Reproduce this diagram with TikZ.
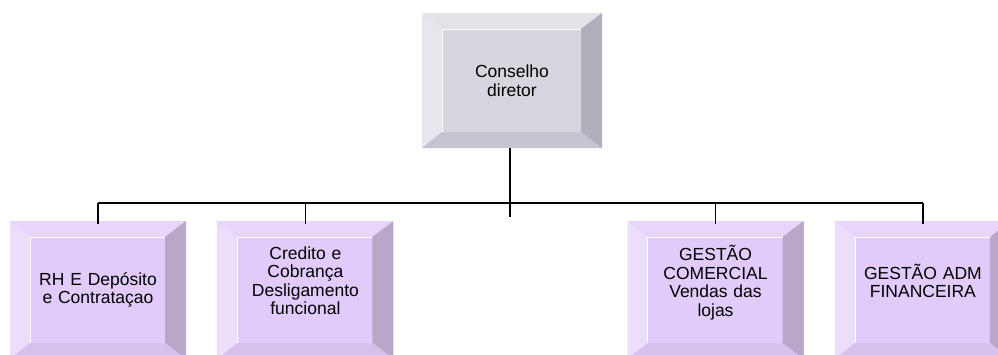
\documentclass[tikz,border=0pt]{standalone}
\usepackage{fontspec}
\setmainfont{Liberation Sans}
\usepackage{xcolor}
\usepackage{tikz}
\usetikzlibrary{positioning,calc}
\definecolor{grayFace}{RGB}{214,214,223}
\definecolor{grayTop}{RGB}{226,226,233}
\definecolor{grayLeft}{RGB}{231,231,237}
\definecolor{grayRight}{RGB}{177,175,187}
\definecolor{grayBottom}{RGB}{197,196,208}
\definecolor{purpleFace}{RGB}{225,203,250}
\definecolor{purpleTop}{RGB}{231,213,251}
\definecolor{purpleLeft}{RGB}{235,222,251}
\definecolor{purpleRight}{RGB}{185,167,200}
\definecolor{purpleBottom}{RGB}{213,193,235}
\tikzset{
  bevelbox/.style={
    rectangle, inner sep=0pt, fill=#1Face, align=center,
    text width=134pt, font=\fontsize{17.5}{18.5}\selectfont,
    path picture={
      \fill[#1Top] (path picture bounding box.north west) -- (path picture bounding box.north east)
        -- ([shift={(-21pt,-16pt)}]path picture bounding box.north east)
        -- ([shift={(20pt,-16pt)}]path picture bounding box.north west) -- cycle;
      \fill[#1Left] (path picture bounding box.north west) -- (path picture bounding box.south west)
        -- ([shift={(20pt,16pt)}]path picture bounding box.south west)
        -- ([shift={(20pt,-16pt)}]path picture bounding box.north west) -- cycle;
      \fill[#1Right] (path picture bounding box.north east) -- (path picture bounding box.south east)
        -- ([shift={(-21pt,16pt)}]path picture bounding box.south east)
        -- ([shift={(-21pt,-16pt)}]path picture bounding box.north east) -- cycle;
      \fill[#1Bottom] (path picture bounding box.south west) -- (path picture bounding box.south east)
        -- ([shift={(-21pt,16pt)}]path picture bounding box.south east)
        -- ([shift={(20pt,16pt)}]path picture bounding box.south west) -- cycle;
      \draw[white, line width=0.8pt] ([shift={(20pt,16pt)}]path picture bounding box.south west)
        -- ([shift={(20pt,-16pt)}]path picture bounding box.north west)
        -- ([shift={(-21pt,-16pt)}]path picture bounding box.north east);
    }
  },
  bossbox/.style={bevelbox=gray, minimum width=180pt, minimum height=135pt},
  unitbox/.style={bevelbox=purple, minimum width=176pt, minimum height=138pt},
  orgline/.style={draw=black, line width=1.6pt}
}
\begin{document}
\begin{tikzpicture}[x=1pt, y=-1pt, node distance=31pt]
  \useasboundingbox (0,0) rectangle (998,354);
  \clip (0,0) rectangle (998,354);
  \fill[white] (0,0) rectangle (998,354);

  \node[bossbox] (conselho) at (512,80.5) {Conselho\\diretor};

  \node[unitbox] (rh) at (98,290) {RH E Dep\'osito\\e Contrata\c{c}ao};
  \node[unitbox, right=of rh] (credito) {Credito e\\Cobran\c{c}a\\Desligamento\\funcional\\\mbox{}};
  \node[unitbox] (comercial) at (715.5,290) {GEST\~AO\\COMERCIAL\\Vendas das\\lojas\\\mbox{}};
  \node[unitbox, right=of comercial] (financeira) {GEST\~AO ADM\\FINANCEIRA\\\mbox{}};

  \coordinate (bus) at (510,203);
  \draw[orgline] (conselho.south -| bus) -- ($(bus)+(0,14)$);
  \draw[orgline] (rh.north |- bus) -- (financeira.north |- bus);
  \foreach \unit in {rh,credito,comercial,financeira}
    \draw[orgline] (\unit.north |- bus) -- ([yshift=-3pt]\unit.north);
\end{tikzpicture}
\end{document}
